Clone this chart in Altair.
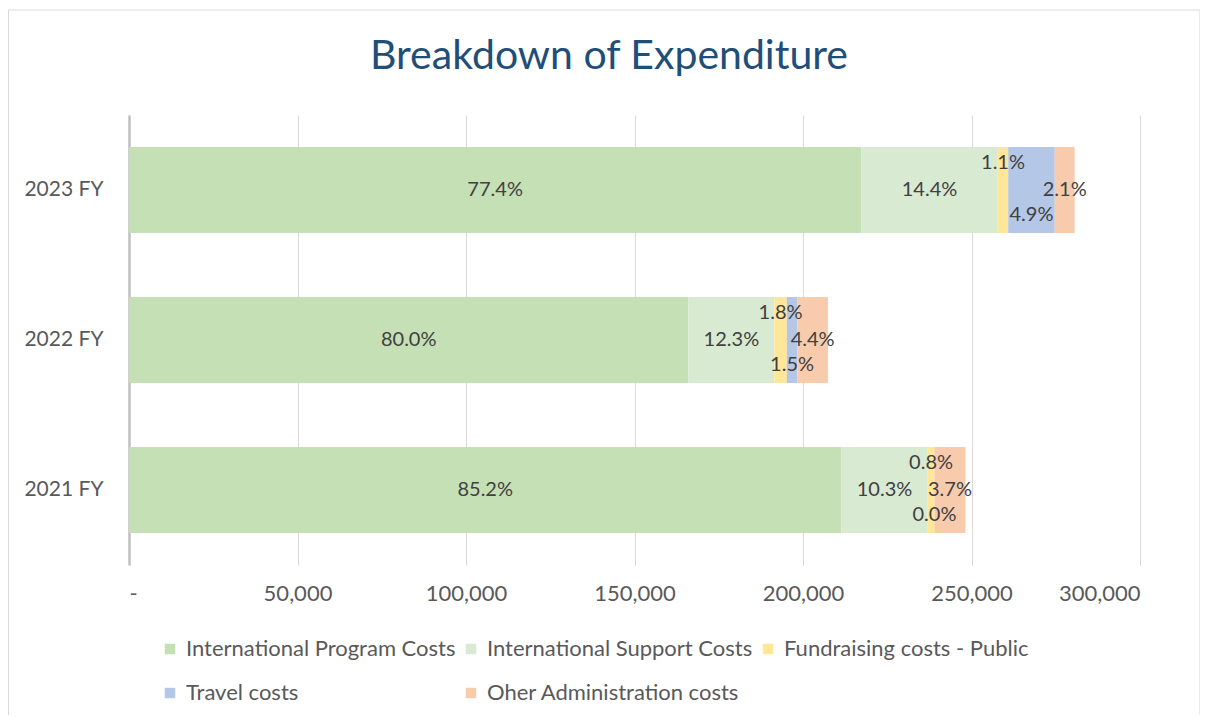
import altair as alt
import pandas as pd

years = ["2023 FY", "2022 FY", "2021 FY"]
categories = [
    "International Program Costs",
    "International Support Costs",
    "Fundraising costs - Public",
    "Travel costs",
    "Oher Administration costs",
]
colors = ["#C5E0B4", "#D9EAD3", "#FFE699", "#B4C7E7", "#F8CBAD"]

program = [217300, 166000, 211400]
support = [40500, 25500, 25600]
fundraising = [3100, 3700, 2000]
travel = [13800, 3100, 0]
other = [5900, 9100, 9200]

title_text = "Breakdown of Expenditure"

series = [program, support, fundraising, travel, other]
rows = []
for ci, (cat, vals) in enumerate(zip(categories, series)):
    for y, v in zip(years, vals):
        rows.append({"year": y, "category": cat, "idx": ci, "amount": v})
df = pd.DataFrame(rows)

FONT = "Lato"

base = (
    alt.Chart(df)
    .transform_joinaggregate(total="sum(amount)", groupby=["year"])
    .transform_calculate(pct="datum.amount / datum.total")
    .transform_stack(
        stack="amount",
        as_=["x0", "x1"],
        groupby=["year"],
        sort=[alt.SortField("idx", order="ascending")],
    )
    .transform_calculate(mid="(datum.x0 + datum.x1) / 2")
)

yenc = alt.Y(
    "year:N",
    sort=years,
    title=None,
    scale=alt.Scale(paddingInner=0.427, paddingOuter=0.213),
    axis=alt.Axis(
        domainColor="#BFBFBF",
        domainWidth=2.5,
        ticks=False,
        grid=False,
        labelFont=FONT,
        labelFontSize=21,
        labelColor="#595959",
        labelPadding=26,
    ),
)

bars = base.mark_bar().encode(
    x=alt.X(
        "x0:Q",
        title=None,
        scale=alt.Scale(domain=[0, 300000], nice=False),
        axis=alt.Axis(
            values=[0, 50000, 100000, 150000, 200000, 250000, 300000],
            labelExpr="datum.value == 0 ? '-' : format(datum.value, ',')",
            domain=False,
            ticks=False,
            grid=True,
            gridColor="#D9D9D9",
            gridWidth=1,
            labelFont=FONT,
            labelFontSize=22,
            labelColor="#595959",
            labelPadding=18,
        ),
    ),
    x2="x1:Q",
    y=yenc,
    color=alt.Color(
        "category:N",
        scale=alt.Scale(domain=categories, range=colors),
        title=None,
        legend=alt.Legend(
            orient="none",
            legendX=30,
            legendY=523,
            direction="horizontal",
            columns=3,
            symbolType="square",
            symbolSize=110,
            symbolStrokeWidth=0,
            labelFont=FONT,
            labelFontSize=22,
            labelColor="#595959",
            labelLimit=400,
            columnPadding=4,
            rowPadding=22,
            labelOffset=5,
        ),
    ),
    order=alt.Order("idx:Q"),
)

def labels(filt, dy):
    return (
        base.transform_filter(filt)
        .mark_text(font=FONT, fontSize=20, color="#404040", dy=dy)
        .encode(
            x="mid:Q",
            y=alt.Y("year:N", sort=years),
            text=alt.Text("pct:Q", format=".1%"),
        )
    )

main_labels = labels(
    "datum.category != 'Fundraising costs - Public' && datum.category != 'Travel costs'", 0
)
fund_labels = labels("datum.category == 'Fundraising costs - Public'", -27)
travel_labels = labels("datum.category == 'Travel costs'", 25)

one = pd.DataFrame({"a": [0]})

frame = (
    alt.Chart(one)
    .mark_rect(fillOpacity=0, stroke="#D9D9D9", strokeWidth=1)
    .encode(
        x=alt.value(-120.5),
        x2=alt.value(1071),
        y=alt.value(-105),
        y2=alt.value(601),
    )
)

title = (
    alt.Chart(one)
    .mark_text(
        font=FONT, fontSize=41, color="#1F4E79", align="center", baseline="alphabetic"
    )
    .encode(x=alt.value(480), y=alt.value(-46), text=alt.value(title_text))
)

chart = (
    alt.layer(frame, bars, main_labels, fund_labels, travel_labels, title)
    .properties(
        width=1011,
        height=450,
        background="white",
        autosize=alt.AutoSizeParams(type="none"),
        padding={"left": 121, "top": 107, "right": 60, "bottom": 150},
    )
    .configure_view(stroke=None, strokeWidth=0)
)

chart.save("out.html", embed_options={"renderer": "svg", "actions": False})
